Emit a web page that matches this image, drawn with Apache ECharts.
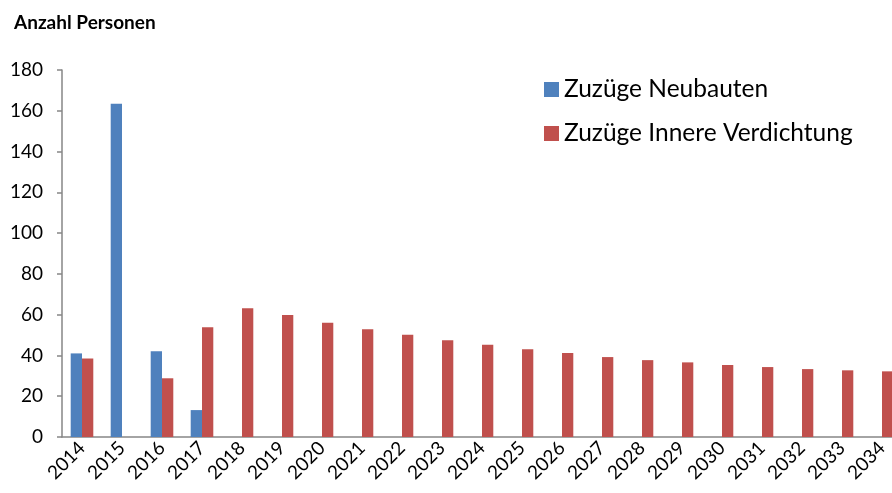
<!DOCTYPE html>
<html>
<head>
<meta charset="utf-8">
<script src="https://cdn.jsdelivr.net/npm/echarts@6/dist/echarts.min.js"></script>
<style>
  html, body { margin: 0; padding: 0; background: #fff; overflow: hidden; }
  /* the original chart is cut off at the right edge, so the canvas is a bit wider than the window */
  #chart { width: 902px; height: 493px; }
</style>
</head>
<body>
<div id="chart"></div>
<script>
var years = ['2014', '2015', '2016', '2017', '2018', '2019', '2020', '2021', '2022', '2023', '2024',
    '2025', '2026', '2027', '2028', '2029', '2030', '2031', '2032', '2033', '2034'];
var neubauten = [41, 163.5, 42, 13.2, null, null, null, null, null, null, null,
    null, null, null, null, null, null, null, null, null, null];
var verdichtung = [38.5, null, 28.8, 53.8, 63.2, 59.8, 56, 52.9, 50.2, 47.5, 45.3,
    43, 41.2, 39.2, 37.7, 36.6, 35.3, 34.3, 33.3, 32.7, 32.2];
var seriesNames = ['Zuzüge Neubauten', 'Zuzüge Innere Verdichtung'];

var font = 'Lato, "Open Sans", sans-serif';
var axisGrey = '#868686';

var option = {
    animation: false,
    color: ['#4F81BD', '#C0504D'],
    title: {
        text: 'Anzahl Personen',
        left: 9,
        top: 8,
        textStyle: { fontFamily: font, fontSize: 19, fontWeight: 'bold', color: '#000' }
    },
    legend: {
        orient: 'vertical',
        left: 539,
        top: 72,
        icon: 'rect',
        itemWidth: 15,
        itemHeight: 15,
        itemGap: 19,
        textStyle: { fontFamily: font, fontSize: 24.5, color: '#000' },
        data: seriesNames
    },
    grid: {
        left: 62,
        top: 70,
        right: 0,
        height: 367
    },
    xAxis: {
        type: 'category',
        data: years,
        axisLine: { lineStyle: { color: axisGrey, width: 1.5 } },
        axisTick: { length: 5, lineStyle: { color: axisGrey, width: 1.5 } },
        axisLabel: {
            rotate: 45,
            interval: 0,
            margin: 8,
            fontFamily: font,
            fontSize: 19,
            color: '#000'
        }
    },
    yAxis: {
        type: 'value',
        min: 0,
        max: 180,
        interval: 20,
        splitLine: { show: false },
        axisLine: { show: true, lineStyle: { color: axisGrey, width: 1.5 } },
        axisTick: { show: true, length: 5, lineStyle: { color: axisGrey, width: 1.5 } },
        axisLabel: { margin: 19, fontFamily: font, fontSize: 19, color: '#000' }
    },
    series: [{
        name: seriesNames[0],
        type: 'bar',
        barWidth: 11.3,
        barGap: '0%',
        data: neubauten
    }, {
        name: seriesNames[1],
        type: 'bar',
        barWidth: 11.3,
        barGap: '0%',
        data: verdichtung
    }]
};

var myChart = echarts.init(document.getElementById('chart'));
myChart.setOption(option);
</script>
</body>
</html>
